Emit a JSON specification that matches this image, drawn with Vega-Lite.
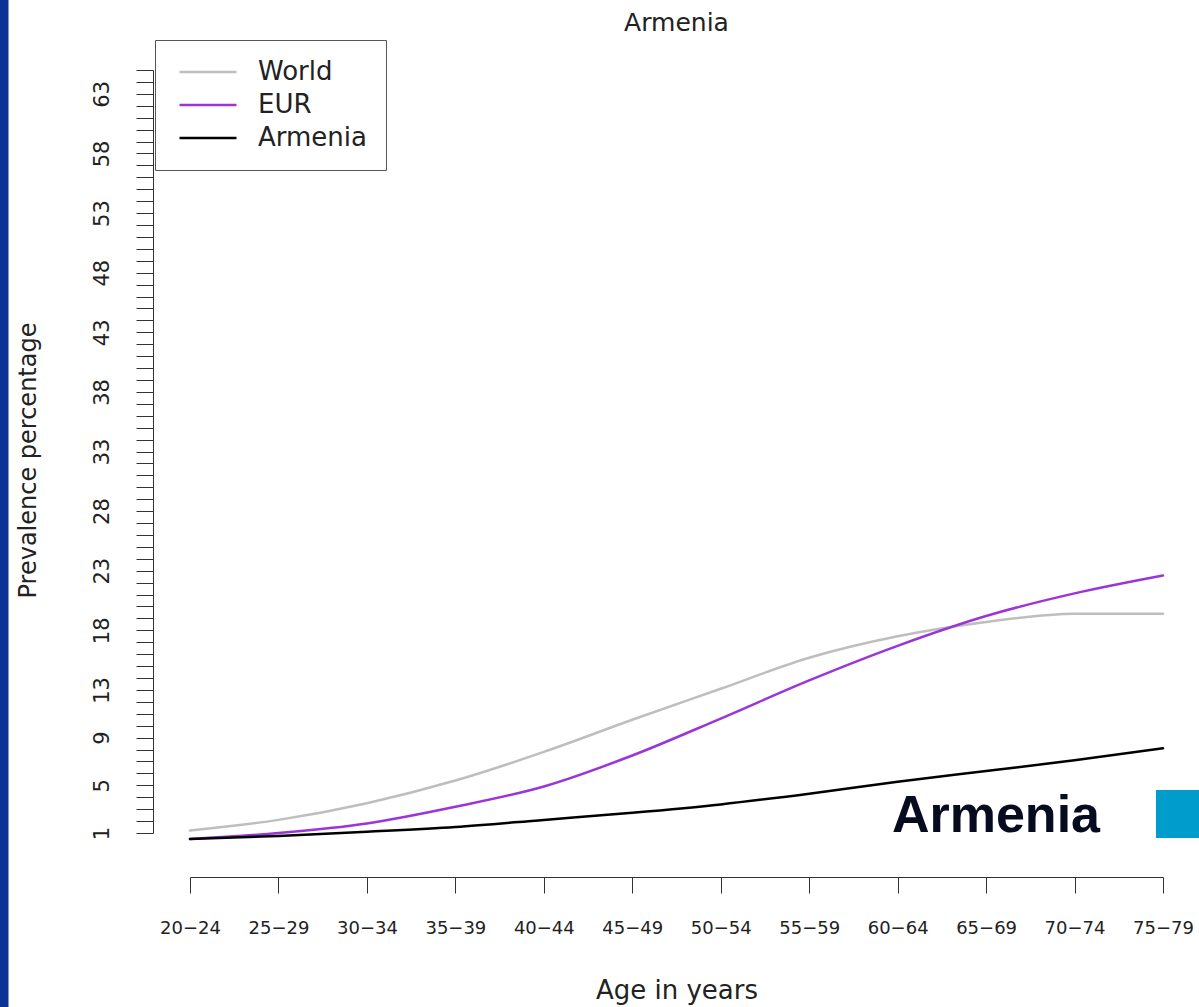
{
  "$schema": "https://vega.github.io/schema/vega-lite/v6.json",
  "width": 973,
  "height": 763,
  "autosize": {"type": "none"},
  "padding": {"left": 190, "top": 70, "right": 36, "bottom": 174},
  "background": "white",
  "config": {"view": {"stroke": null}, "font": "DejaVu Sans"},
  "title": {
    "text": "Armenia",
    "font": "DejaVu Sans",
    "fontSize": 25,
    "fontWeight": "normal",
    "color": "#222222",
    "anchor": "middle",
    "frame": "group",
    "offset": -48
  },
  "datasets": {
    "prev": [
      {"age": "20-24", "series": "World", "value": 1.2},
      {"age": "25-29", "series": "World", "value": 2.1},
      {"age": "30-34", "series": "World", "value": 3.5},
      {"age": "35-39", "series": "World", "value": 5.4},
      {"age": "40-44", "series": "World", "value": 7.8},
      {"age": "45-49", "series": "World", "value": 10.5},
      {"age": "50-54", "series": "World", "value": 13.1},
      {"age": "55-59", "series": "World", "value": 15.7},
      {"age": "60-64", "series": "World", "value": 17.5},
      {"age": "65-69", "series": "World", "value": 18.7},
      {"age": "70-74", "series": "World", "value": 19.4},
      {"age": "75-79", "series": "World", "value": 19.4},
      {"age": "20-24", "series": "EUR", "value": 0.5},
      {"age": "25-29", "series": "EUR", "value": 1.0},
      {"age": "30-34", "series": "EUR", "value": 1.8},
      {"age": "35-39", "series": "EUR", "value": 3.2},
      {"age": "40-44", "series": "EUR", "value": 4.9},
      {"age": "45-49", "series": "EUR", "value": 7.5},
      {"age": "50-54", "series": "EUR", "value": 10.6},
      {"age": "55-59", "series": "EUR", "value": 13.8},
      {"age": "60-64", "series": "EUR", "value": 16.7},
      {"age": "65-69", "series": "EUR", "value": 19.2},
      {"age": "70-74", "series": "EUR", "value": 21.1},
      {"age": "75-79", "series": "EUR", "value": 22.6},
      {"age": "20-24", "series": "Armenia", "value": 0.5},
      {"age": "25-29", "series": "Armenia", "value": 0.75},
      {"age": "30-34", "series": "Armenia", "value": 1.1},
      {"age": "35-39", "series": "Armenia", "value": 1.5},
      {"age": "40-44", "series": "Armenia", "value": 2.1},
      {"age": "45-49", "series": "Armenia", "value": 2.7},
      {"age": "50-54", "series": "Armenia", "value": 3.4},
      {"age": "55-59", "series": "Armenia", "value": 4.3},
      {"age": "60-64", "series": "Armenia", "value": 5.3},
      {"age": "65-69", "series": "Armenia", "value": 6.2},
      {"age": "70-74", "series": "Armenia", "value": 7.1},
      {"age": "75-79", "series": "Armenia", "value": 8.1}
    ]
  },
  "layer": [
    {
      "data": {"name": "prev"},
      "mark": {"type": "line", "interpolate": "monotone", "strokeCap": "round"},
      "encoding": {
        "x": {
          "field": "age",
          "type": "ordinal",
          "sort": null,
          "scale": {"type": "point", "padding": 0},
          "axis": {
            "title": "Age in years",
            "titleFont": "DejaVu Sans",
            "titleFontSize": 26,
            "titleFontWeight": "normal",
            "titleColor": "#222222",
            "titleBaseline": "middle",
            "titleY": 113,
            "labelAngle": 0,
            "labelFont": "DejaVu Sans",
            "labelFontSize": 18,
            "labelColor": "#222222",
            "labelBaseline": "middle",
            "labelPadding": 35,
            "labelExpr": "replace(datum.label, '-', '\u2212')",
            "offset": 44,
            "tickSize": 16,
            "tickColor": "#333333",
            "domainColor": "#333333",
            "grid": false
          }
        },
        "y": {
          "field": "value",
          "type": "quantitative",
          "scale": {"domain": [1, 65], "nice": false, "zero": false},
          "axis": {
            "title": "Prevalence percentage",
            "titleFont": "DejaVu Sans",
            "titleFontSize": 24,
            "titleFontWeight": "normal",
            "titleColor": "#222222",
            "titleAngle": 270,
            "titleBaseline": "middle",
            "titleAlign": "center",
            "titleX": -125,
            "titleY": 390,
            "tickCount": 200,
            "format": "d",
            "values": [1,2,3,4,5,6,7,8,9,10,11,12,13,14,15,16,17,18,19,20,21,22,23,24,25,26,27,28,29,30,31,32,33,34,35,36,37,38,39,40,41,42,43,44,45,46,47,48,49,50,51,52,53,54,55,56,57,58,59,60,61,62,63,64,65],
            "labelExpr": "indexof([1,5,9,13,18,23,28,33,38,43,48,53,58,63], datum.value) >= 0 ? datum.label : ''",
            "labelOverlap": false,
            "labelAngle": 270,
            "labelAlign": "center",
            "labelBaseline": "alphabetic",
            "labelPadding": 28,
            "labelFont": "DejaVu Sans",
            "labelFontSize": 21,
            "labelColor": "#222222",
            "offset": 37,
            "tickSize": 17,
            "tickColor": "#333333",
            "domainColor": "#333333",
            "grid": false
          }
        },
        "color": {
          "field": "series",
          "type": "nominal",
          "scale": {"domain": ["World", "EUR", "Armenia"], "range": ["#bebebe", "#9b35d9", "#000000"]},
          "legend": {
            "orient": "none",
            "legendX": -35,
            "legendY": -30,
            "title": null,
            "symbolType": "M-3,0H3",
            "symbolSize": 361,
            "symbolStrokeWidth": 3,
            "symbolOffset": 21,
            "labelOffset": 37,
            "labelFont": "DejaVu Sans",
            "labelFontSize": 26,
            "labelColor": "#222222",
            "labelLimit": 300,
            "padding": 19,
            "rowPadding": 7,
            "strokeColor": "#555555",
            "fillColor": "white"
          }
        },
        "strokeWidth": {
          "field": "series",
          "type": "nominal",
          "scale": {"domain": ["World", "EUR", "Armenia"], "range": [2.5, 2.5, 4.5]},
          "legend": null
        }
      }
    },
    {
      "data": {"values": [{"top": 71.5, "bottom": -14, "at": "20-24"}]},
      "mark": {"type": "rule", "color": "#0a3595", "strokeWidth": 9, "xOffset": -186},
      "encoding": {
        "x": {"field": "at", "type": "ordinal"},
        "y": {"field": "top", "type": "quantitative"},
        "y2": {"field": "bottom"}
      }
    },
    {
      "data": {"values": [{"label": "Armenia", "at": "75-79", "v": 1.1}]},
      "mark": {"type": "text", "align": "right", "baseline": "alphabetic", "dx": -63, "font": "Liberation Sans", "fontWeight": "bold", "fontSize": 52, "color": "#060b1f"},
      "encoding": {
        "x": {"field": "at", "type": "ordinal"},
        "y": {"field": "v", "type": "quantitative"},
        "text": {"field": "label"}
      }
    },
    {
      "data": {"values": [{"at": "75-79", "v": 2.59}]},
      "mark": {"type": "point", "shape": "square", "filled": true, "size": 2304, "color": "#009dcc", "opacity": 1, "strokeWidth": 0, "xOffset": 17},
      "encoding": {
        "x": {"field": "at", "type": "ordinal"},
        "y": {"field": "v", "type": "quantitative"}
      }
    }
  ]
}
